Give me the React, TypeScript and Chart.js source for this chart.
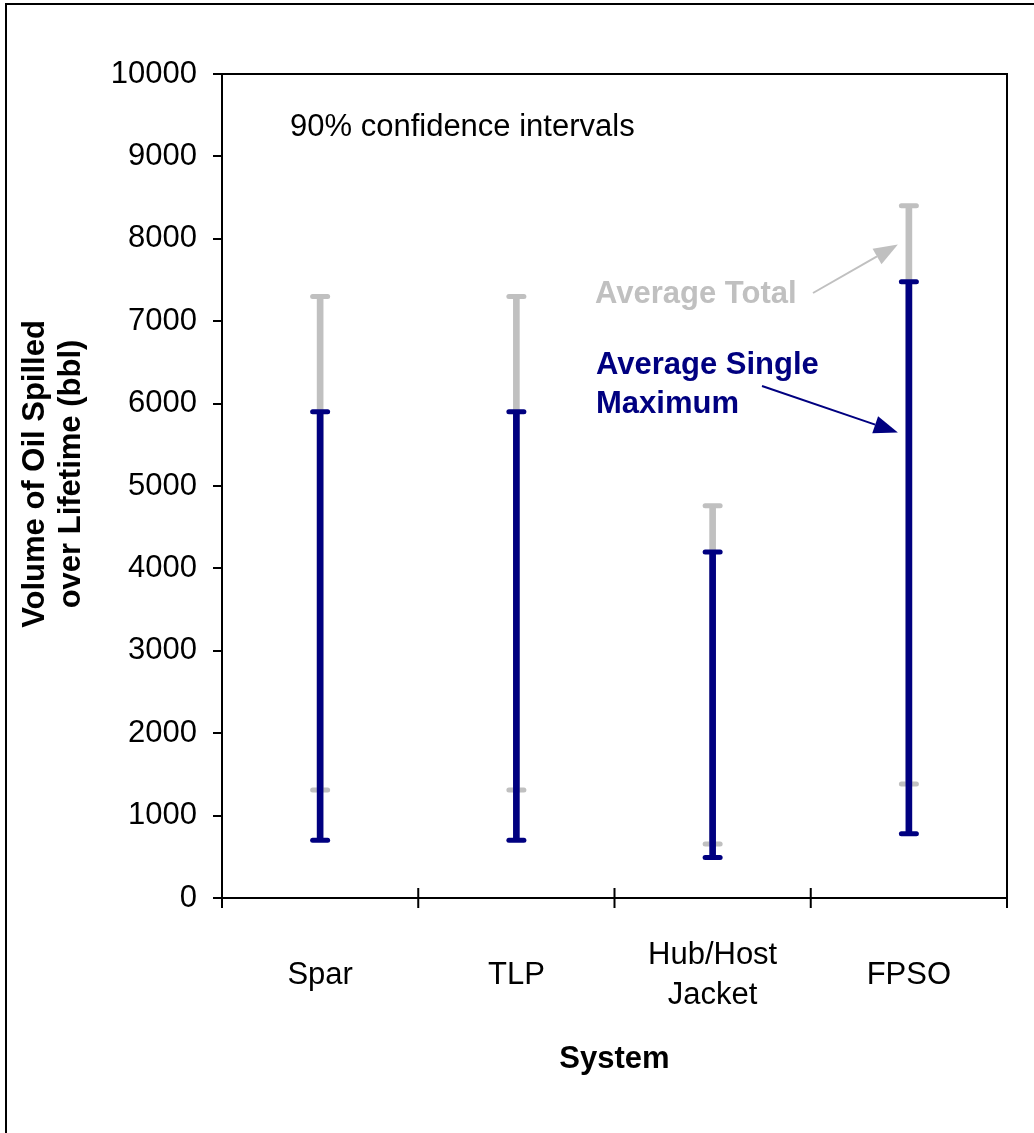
import { useEffect, useRef } from 'react';
import { Chart, registerables } from 'chart.js';

Chart.register(...registerables);

// Offshore production systems compared
const systems: (string | string[])[] = ['Spar', 'TLP', ['Hub/Host', 'Jacket'], 'FPSO'];

// 90% confidence interval of the average total volume spilled (bbl)
const totalLow = [1310, 1310, 655, 1385];
const totalHigh = [7300, 7300, 4760, 8400];

// 90% confidence interval of the average single maximum spill (bbl)
const singleMaxLow = [700, 700, 490, 780];
const singleMaxHigh = [5900, 5900, 4200, 7480];

// Value axis
const yMin = 0;
const yMax = 10000;
const yStep = 1000;

const yTitle = ['Volume of Oil Spilled', 'over Lifetime (bbl)'];
const xTitle = 'System';
const noteText = '90% confidence intervals';
const totalText = 'Average Total';
const singleMaxText = ['Average Single', 'Maximum'];

const GREY = '#C0C0C0';
const NAVY = '#000080';
const FONT = '"Liberation Sans", Arial, Helvetica, sans-serif';

function arrow(ctx: CanvasRenderingContext2D, x1: number, y1: number, x2: number, y2: number, color: string) {
  const ang = Math.atan2(y2 - y1, x2 - x1);
  const head = 24;
  const half = 9;
  const bx = x2 - Math.cos(ang) * head;
  const by = y2 - Math.sin(ang) * head;
  ctx.strokeStyle = color;
  ctx.fillStyle = color;
  ctx.lineWidth = 2;
  ctx.beginPath();
  ctx.moveTo(x1, y1);
  ctx.lineTo(bx, by);
  ctx.stroke();
  ctx.beginPath();
  ctx.moveTo(x2, y2);
  ctx.lineTo(bx + Math.sin(ang) * half, by - Math.cos(ang) * half);
  ctx.lineTo(bx - Math.sin(ang) * half, by + Math.cos(ang) * half);
  ctx.closePath();
  ctx.fill();
}

const decorations = {
  id: 'decorations',
  beforeDatasetsDraw(chart: any) {
    chart.ctx.lineCap = 'round';
  },
  afterDatasetsDraw(chart: any) {
    chart.ctx.lineCap = 'butt';
  },
  afterDraw(chart: any) {
    const { ctx, chartArea } = chart;
    const xs = chart.scales.x;
    const ys = chart.scales.y;
    ctx.save();
    ctx.lineCap = 'butt';
    ctx.strokeStyle = '#000';
    ctx.lineWidth = 2;

    // outer frame (left and top edges)
    ctx.beginPath();
    ctx.moveTo(6, chart.height);
    ctx.lineTo(6, 4);
    ctx.lineTo(chart.width, 4);
    ctx.stroke();

    // plot box top and right edges
    ctx.beginPath();
    ctx.moveTo(chartArea.left, chartArea.top);
    ctx.lineTo(chartArea.right, chartArea.top);
    ctx.lineTo(chartArea.right, chartArea.bottom);
    ctx.stroke();

    // category separator ticks crossing the x axis
    const n = systems.length;
    const step = (xs.right - xs.left) / n;
    ctx.beginPath();
    for (let i = 0; i <= n; i++) {
      const px = xs.left + i * step;
      ctx.moveTo(px, chartArea.bottom - 10);
      ctx.lineTo(px, chartArea.bottom + 10);
    }
    ctx.stroke();

    // value axis title, two rotated lines
    ctx.save();
    ctx.font = `bold 31px ${FONT}`;
    ctx.fillStyle = '#000';
    ctx.textAlign = 'center';
    ctx.textBaseline = 'middle';
    ctx.translate(35, (chartArea.top + chartArea.bottom) / 2 - 12);
    ctx.rotate(-Math.PI / 2);
    yTitle.forEach((line, i) => ctx.fillText(line, 0, i * 36));
    ctx.restore();

    // annotations
    ctx.textBaseline = 'middle';
    ctx.textAlign = 'left';
    ctx.fillStyle = '#000';
    ctx.font = `31px ${FONT}`;
    ctx.fillText(noteText, chartArea.left + 68, chartArea.top + 53);

    const fx = xs.getPixelForValue(3);
    ctx.font = `bold 31px ${FONT}`;
    ctx.fillStyle = GREY;
    ctx.fillText(totalText, chartArea.left + 373, chartArea.top + 220);
    ctx.fillStyle = NAVY;
    ctx.fillText(singleMaxText[0], chartArea.left + 374, chartArea.top + 291);
    ctx.fillText(singleMaxText[1], chartArea.left + 374, chartArea.top + 330);

    arrow(ctx, chartArea.left + 591, chartArea.top + 219, fx - 11, ys.getPixelForValue(7930), GREY);
    arrow(ctx, chartArea.left + 540, chartArea.top + 312, fx - 11, ys.getPixelForValue(5650), NAVY);
    ctx.restore();
  },
};

function capSet(data: number[], color: string, order: number) {
  return {
    type: 'line' as const,
    data,
    showLine: false,
    pointStyle: 'line',
    pointRadius: 7.5,
    pointHoverRadius: 7.5,
    pointBorderWidth: 5,
    pointHoverBorderWidth: 5,
    pointBorderColor: color,
    pointBackgroundColor: color,
    borderColor: color,
    order,
  };
}

export default function App() {
  const ref = useRef<HTMLCanvasElement | null>(null);

  useEffect(() => {
    if (!ref.current) return;
    Chart.defaults.font.family = FONT;
    const chart = new Chart(ref.current, {
      type: 'bar',
      data: {
        labels: systems as any,
        datasets: [
          {
            type: 'bar',
            label: totalText,
            data: systems.map((_, i) => [totalLow[i], totalHigh[i]]) as any,
            backgroundColor: GREY,
            borderWidth: 0,
            barThickness: 6,
            grouped: false,
            order: 40,
          },
          capSet(totalHigh, GREY, 30) as any,
          capSet(totalLow, GREY, 30) as any,
          {
            type: 'bar',
            label: singleMaxText.join(' '),
            data: systems.map((_, i) => [singleMaxLow[i], singleMaxHigh[i]]) as any,
            backgroundColor: NAVY,
            borderWidth: 0,
            barThickness: 6,
            grouped: false,
            order: 20,
          },
          capSet(singleMaxHigh, NAVY, 10) as any,
          capSet(singleMaxLow, NAVY, 10) as any,
        ],
      },
      options: {
        responsive: false,
        devicePixelRatio: 1,
        animation: false,
        events: [],
        layout: { padding: { left: 0, top: 74, right: 27, bottom: 0 } },
        plugins: { legend: { display: false }, tooltip: { enabled: false } },
        scales: {
          x: {
            type: 'category',
            offset: true,
            grid: { display: false, drawTicks: false },
            border: { display: true, color: '#000', width: 2 },
            ticks: {
              color: '#000',
              font: { size: 31, lineHeight: 1.29 },
              padding: 57,
              crossAlign: 'center',
              autoSkip: false,
              maxRotation: 0,
              minRotation: 0,
            },
            title: {
              display: true,
              text: xTitle,
              color: '#000',
              font: { size: 31, weight: 'bold', lineHeight: 1.2 },
              padding: { top: 0, bottom: 55 },
            },
            afterFit: (s: any) => {
              s.height = 235;
            },
          },
          y: {
            min: yMin,
            max: yMax,
            ticks: {
              stepSize: yStep,
              color: '#000',
              font: { size: 31 },
              padding: 16,
              callback: (v: any) => String(v),
            },
            grid: { drawOnChartArea: false, drawTicks: true, tickLength: 9, color: '#000', lineWidth: 2 },
            border: { display: true, color: '#000', width: 2 },
            afterFit: (s: any) => {
              s.width = 222;
            },
          },
        },
      } as any,
      plugins: [decorations],
    });
    return () => chart.destroy();
  }, []);

  return (
    <div style={{ position: 'absolute', left: 0, top: 0, width: 1034, height: 1133, background: '#fff' }}>
      <canvas ref={ref} width={1034} height={1133} style={{ display: 'block' }} />
    </div>
  );
}
